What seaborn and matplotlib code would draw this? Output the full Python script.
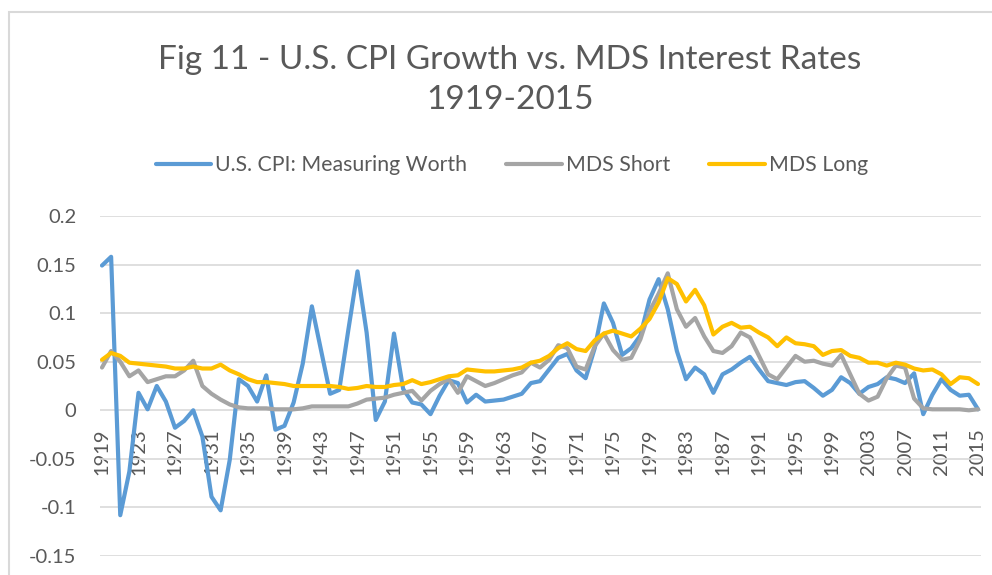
import numpy as np
import pandas as pd
import matplotlib
matplotlib.use("Agg")
import matplotlib.pyplot as plt
import matplotlib.patches as mpatches
import seaborn as sns

years = list(range(1919, 2016))

cpi = [0.149, 0.158, -0.108, -0.063, 0.018, 0.001, 0.025, 0.009, -0.018, -0.011,
       0.0, -0.027, -0.089, -0.103, -0.051, 0.032, 0.025, 0.009, 0.036, -0.020,
       -0.016, 0.008, 0.048, 0.107, 0.062, 0.017, 0.021, 0.083, 0.143, 0.080,
       -0.010, 0.009, 0.079, 0.022, 0.008, 0.006, -0.004, 0.015, 0.031, 0.028,
       0.008, 0.016, 0.009, 0.010, 0.011, 0.014, 0.017, 0.028, 0.030, 0.042,
       0.054, 0.058, 0.041, 0.033, 0.064, 0.110, 0.090, 0.057, 0.064, 0.077,
       0.114, 0.135, 0.104, 0.061, 0.032, 0.044, 0.037, 0.018, 0.037, 0.042,
       0.049, 0.055, 0.042, 0.030, 0.028, 0.026, 0.029, 0.030, 0.023, 0.015,
       0.021, 0.034, 0.028, 0.017, 0.024, 0.027, 0.034, 0.032, 0.028, 0.038,
       -0.004, 0.016, 0.032, 0.021, 0.015, 0.016, 0.001]

mds_short = [0.044, 0.061, 0.050, 0.035, 0.041, 0.029, 0.032, 0.035, 0.035, 0.041,
             0.051, 0.025, 0.017, 0.011, 0.006, 0.003, 0.002, 0.002, 0.002, 0.001,
             0.001, 0.001, 0.002, 0.004, 0.004, 0.004, 0.004, 0.004, 0.007, 0.011,
             0.012, 0.013, 0.016, 0.018, 0.020, 0.010, 0.020, 0.027, 0.032, 0.018,
             0.035, 0.030, 0.025, 0.028, 0.032, 0.036, 0.039, 0.049, 0.044, 0.052,
             0.067, 0.064, 0.045, 0.042, 0.066, 0.079, 0.062, 0.052, 0.054, 0.073,
             0.102, 0.120, 0.141, 0.104, 0.086, 0.095, 0.076, 0.061, 0.059, 0.066,
             0.080, 0.075, 0.056, 0.037, 0.032, 0.044, 0.056, 0.050, 0.051, 0.048,
             0.046, 0.057, 0.037, 0.017, 0.010, 0.014, 0.033, 0.046, 0.044, 0.012,
             0.002, 0.001, 0.001, 0.001, 0.001, 0.000, 0.001]

mds_long = [0.052, 0.059, 0.056, 0.049, 0.048, 0.047, 0.046, 0.045, 0.043, 0.043,
            0.045, 0.043, 0.043, 0.047, 0.041, 0.037, 0.032, 0.029, 0.029, 0.028,
            0.027, 0.025, 0.025, 0.025, 0.025, 0.025, 0.024, 0.022, 0.023, 0.025,
            0.024, 0.024, 0.026, 0.027, 0.031, 0.027, 0.029, 0.032, 0.035, 0.036,
            0.042, 0.041, 0.040, 0.040, 0.041, 0.042, 0.044, 0.049, 0.051, 0.056,
            0.064, 0.069, 0.063, 0.061, 0.072, 0.079, 0.082, 0.079, 0.076, 0.084,
            0.094, 0.111, 0.136, 0.130, 0.112, 0.124, 0.108, 0.078, 0.086, 0.090,
            0.085, 0.086, 0.080, 0.075, 0.066, 0.075, 0.069, 0.068, 0.066, 0.057,
            0.061, 0.062, 0.056, 0.054, 0.049, 0.049, 0.046, 0.049, 0.047, 0.043,
            0.041, 0.042, 0.037, 0.027, 0.034, 0.033, 0.027]

series_names = ["U.S. CPI: Measuring Worth", "MDS Short", "MDS Long"]
series_colors = ["#5B9BD5", "#A5A5A5", "#FFC000"]
y_ticks = [0.2, 0.15, 0.1, 0.05, 0, -0.05, -0.1, -0.15]
x_tick_years = list(range(1919, 2016, 4))
title_text = "Fig 11 - U.S. CPI Growth vs. MDS Interest Rates\n1919-2015"

df = pd.DataFrame({
    "Year": years * 3,
    "Value": cpi + mds_short + mds_long,
    "Series": [series_names[0]] * len(years) + [series_names[1]] * len(years)
              + [series_names[2]] * len(years),
})

sns.set_theme(style="white")
plt.rcParams["font.family"] = ["Lato", "DejaVu Sans"]
plt.rcParams["lines.solid_joinstyle"] = "round"
plt.rcParams["lines.solid_capstyle"] = "round"
plt.rcParams["axes.unicode_minus"] = False

text_color = "#595959"
grid_color = "#D9D9D9"

fig = plt.figure(figsize=(9.92, 5.75), dpi=100)
ax = fig.add_axes([100 / 992, 1 - 556 / 575, 881 / 992, 340 / 575])

sns.lineplot(data=df, x="Year", y="Value", hue="Series",
             palette=dict(zip(series_names, series_colors)),
             hue_order=series_names, linewidth=3.0, legend=False, ax=ax)

ax.set_xlim(1919 - 2 / 9.125, 2015 + 3 / 9.125)
ax.set_ylim(-0.15, 0.2)
ax.set_xlabel("")
ax.set_ylabel("")

for s in ax.spines.values():
    s.set_visible(False)
ax.spines["bottom"].set_position(("data", 0))

ax.set_yticks(y_ticks)
ax.set_yticklabels([f"{v:g}" for v in y_ticks])
ax.yaxis.grid(True, color=grid_color, linewidth=1.2)
ax.set_axisbelow(True)
ax.tick_params(axis="y", length=0, pad=17, labelsize=14.5, labelcolor=text_color)

ax.set_xticks(x_tick_years)
ax.set_xticklabels([str(y) for y in x_tick_years], rotation=90)
ax.tick_params(axis="x", length=0, pad=13, labelsize=14.5, labelcolor=text_color)

handles = [plt.Line2D([0], [0], color=c, linewidth=3.0) for c in series_colors]
fig.legend(handles, series_names, loc="center", bbox_to_anchor=(0.516, 1 - 165 / 575),
           ncol=3, frameon=False, fontsize=15.3, labelcolor=text_color,
           handlelength=2.6, handletextpad=0.2, columnspacing=1.85)

fig.text(0.514, 1 - 80 / 575, title_text, ha="center", va="center",
         fontsize=24, color=text_color, linespacing=1.45, fontweight="normal")

border = mpatches.Rectangle((9 / 992, -0.1), 1.2, 1.1 - 12 / 575,
                            transform=fig.transFigure, fill=False,
                            edgecolor=grid_color, linewidth=1.5, clip_on=False)
fig.patches.append(border)

fig.savefig("out.png", dpi=100)
